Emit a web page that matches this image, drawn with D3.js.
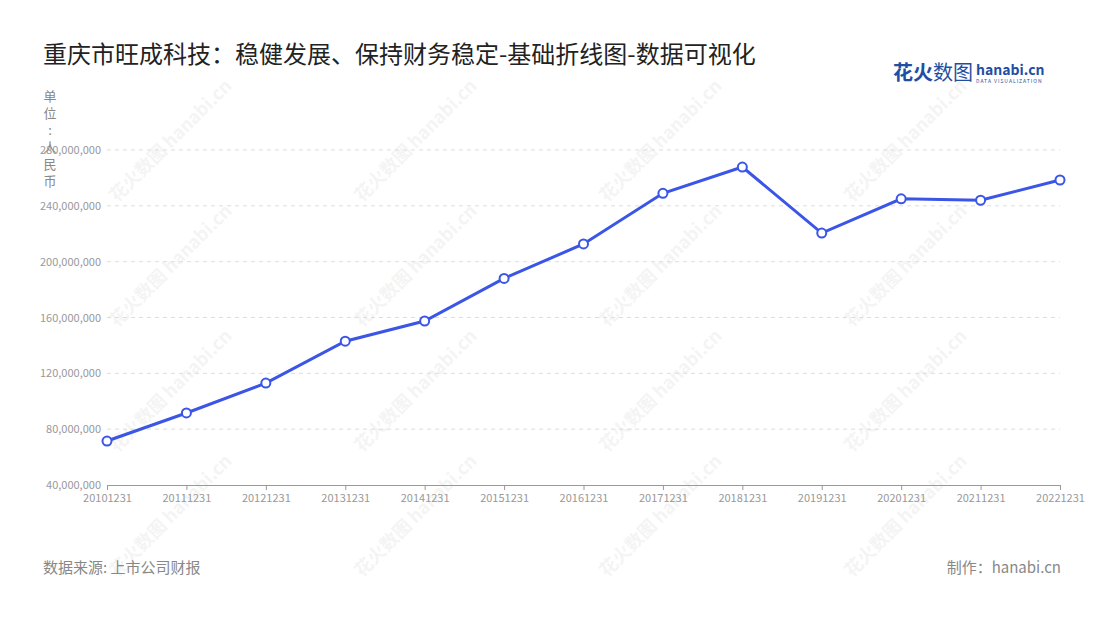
<!DOCTYPE html>
<html><head><meta charset="utf-8">
<script src="https://cdn.jsdelivr.net/npm/d3@7"></script>
<style>body{margin:0;background:#fff;font-family:"Noto Sans CJK SC","Noto Sans",sans-serif}</style>
</head><body><svg id="chart" width="1100" height="620"></svg>
<script>
const categories = ['20101231','20111231','20121231','20131231','20141231','20151231','20161231','20171231','20181231','20191231','20201231','20211231','20221231'];
const values = [71500000,91600000,113000000,143000000,157500000,188000000,212700000,249000000,267800000,220500000,245000000,244000000,258500000];
const yTicks = [40000000,80000000,120000000,160000000,200000000,240000000,280000000];

const svg = d3.select('#chart');
const font = '"Noto Sans CJK SC","Noto Sans",sans-serif';

// watermarks
for (let i = 0; i < 4; i++) for (let j = 0; j < 4; j++) {
  svg.append('text').attr('transform', `translate(${175 + i * 245},${145 + j * 125}) rotate(-45)`)
    .attr('font-size', 18).attr('font-weight', 'bold').attr('fill', '#000').attr('opacity', 0.04)
    .attr('text-anchor', 'middle').text('花火数图 hanabi.cn');
}

svg.append('text').attr('x', 43).attr('y', 63).attr('font-size', 24).attr('fill', '#222')
  .text('重庆市旺成科技：稳健发展、保持财务稳定-基础折线图-数据可视化');

// logo
svg.append('text').attr('x', 893).attr('y', 80).attr('font-size', 20).attr('font-weight', 'bold').attr('fill', '#1f4fa3').text('花火');
svg.append('text').attr('x', 933).attr('y', 80).attr('font-size', 20).attr('fill', '#1f4fa3').text('数图');
svg.append('text').attr('x', 976).attr('y', 75).attr('font-size', 14).attr('font-weight', 'bold').attr('fill', '#1f4fa3').text('hanabi.cn');
svg.append('text').attr('x', 976).attr('y', 83).attr('font-size', 5).attr('fill', '#1f4fa3').attr('letter-spacing', 1).text('DATA VISUALIZATION');

const x = d3.scalePoint().domain(categories).range([107, 1060]);
const y = d3.scaleLinear().domain([40000000, 280000000]).range([485, 150]);

// grid
svg.append('g').selectAll('line').data(yTicks.slice(1)).join('line')
  .attr('x1', 107).attr('x2', 1060).attr('y1', d => y(d)).attr('y2', d => y(d))
  .attr('stroke', '#ddd').attr('stroke-dasharray', '4,4');

const yAxis = svg.append('g').attr('transform', 'translate(107,0)')
  .call(d3.axisLeft(y).tickValues(yTicks).tickFormat(d3.format(',')).tickSize(0).tickPadding(6));
yAxis.select('.domain').remove();
yAxis.selectAll('text').attr('fill', '#999').attr('font-size', 11).attr('font-family', font);

const xAxis = svg.append('g').attr('transform', 'translate(0,485)')
  .call(d3.axisBottom(x).tickSize(5).tickPadding(4));
xAxis.select('.domain').attr('stroke', '#999');
xAxis.selectAll('line').attr('stroke', '#999');
xAxis.selectAll('text').attr('fill', '#999').attr('font-size', 11).attr('font-family', font);

// unit label (vertical)
const unit = '单位：人民币'.split('');
svg.append('g').selectAll('text').data(unit).join('text')
  .attr('x', 50).attr('y', (d, i) => 101 + i * 17).attr('text-anchor', 'middle')
  .attr('font-size', 13).attr('fill', '#888').text(d => d === '：' ? ':' : d);

const line = d3.line().x((d, i) => x(categories[i])).y(d => y(d));
svg.append('path').datum(values).attr('d', line).attr('fill', 'none')
  .attr('stroke', '#3b55e6').attr('stroke-width', 3);
svg.append('g').selectAll('circle').data(values).join('circle')
  .attr('cx', (d, i) => x(categories[i])).attr('cy', d => y(d)).attr('r', 4.5)
  .attr('fill', '#fff').attr('stroke', '#3b55e6').attr('stroke-width', 2);

svg.append('text').attr('x', 43).attr('y', 573).attr('font-size', 15).attr('fill', '#888').text('数据来源: 上市公司财报');
svg.append('text').attr('x', 1061).attr('y', 573).attr('text-anchor', 'end').attr('font-size', 15).attr('fill', '#888').text('制作：hanabi.cn');
</script></body></html>
